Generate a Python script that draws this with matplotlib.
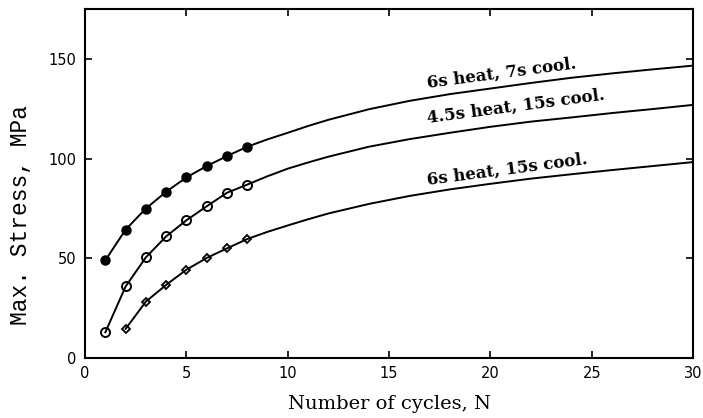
import numpy as np
import matplotlib.pyplot as plt

n_filled = [1, 2, 3, 4, 5, 6, 7, 8]
s_filled = [49, 64.4, 75, 83.4, 90.6, 96.3, 101.3, 106]

n_open = [1, 2, 3, 4, 5, 6, 7, 8]
s_open = [12.9, 35.9, 50.5, 61, 69.1, 76.1, 82.9, 87]

n_diam = [2, 3, 4, 5, 6, 7, 8]
s_diam = [14.6, 28.3, 36.7, 44.3, 50.2, 55, 59.7]

n_fit = [9, 10, 11, 12, 14, 16, 18, 20, 22, 24, 26, 28, 30]
fit_filled = [109.7, 113, 116.4, 119.5, 124.8, 129, 132.4, 135.2, 138, 140.6, 142.8, 144.8, 146.7]
fit_open = [91.2, 95, 98.1, 101, 106, 109.8, 113, 116, 118.6, 120.7, 122.9, 124.9, 127]
fit_diam = [63.3, 66.5, 69.6, 72.5, 77.3, 81.3, 84.6, 87.4, 90, 92.2, 94.3, 96.3, 98.3]

labels = ["6s heat, 7s cool.", "4.5s heat, 15s cool.", "6s heat, 15s cool."]
label_pos = [(16.9, 135.5), (16.9, 118), (16.9, 87)]

fig = plt.figure(figsize=(7.03, 4.18), dpi=100)
ax = fig.add_axes([0.121, 0.1435, 0.865, 0.8345])

ax.plot(n_filled + n_fit, s_filled + fit_filled, color='black', lw=1.4)
ax.plot(n_open + n_fit, s_open + fit_open, color='black', lw=1.4)
ax.plot(n_diam + n_fit, s_diam + fit_diam, color='black', lw=1.4)

ax.plot(n_filled, s_filled, 'o', color='black', markersize=6.5)
ax.plot(n_open, s_open, 'o', markerfacecolor='none', markeredgecolor='black',
        markeredgewidth=1.4, markersize=6.5)
ax.plot(n_diam, s_diam, 'D', markerfacecolor='none', markeredgecolor='black',
        markeredgewidth=1.3, markersize=4.5)

for txt, (x, y) in zip(labels, label_pos):
    ax.text(x, y, txt, rotation=7.5, rotation_mode='anchor', ha='left', va='baseline',
            family='DejaVu Serif', fontsize=12, fontweight='bold')

ax.set_xlim(0, 30)
ax.set_ylim(0, 175)
ax.set_xticks([0, 5, 10, 15, 20, 25, 30])
ax.set_yticks([0, 50, 100, 150])
ax.tick_params(direction='in', top=True, right=True, length=5, width=1.2,
               labelsize=10.5, pad=6)
for s in ax.spines.values():
    s.set_linewidth(1.5)

ax.set_xlabel("Number of cycles, N", family='DejaVu Serif', fontsize=14)
ax.xaxis.set_label_coords(0.5, -0.105)
ax.set_ylabel("Max. Stress, MPa", family='Liberation Mono', fontsize=16.5)
ax.yaxis.set_label_coords(-0.087, 0.41)

fig.savefig("out.png", dpi=100)
